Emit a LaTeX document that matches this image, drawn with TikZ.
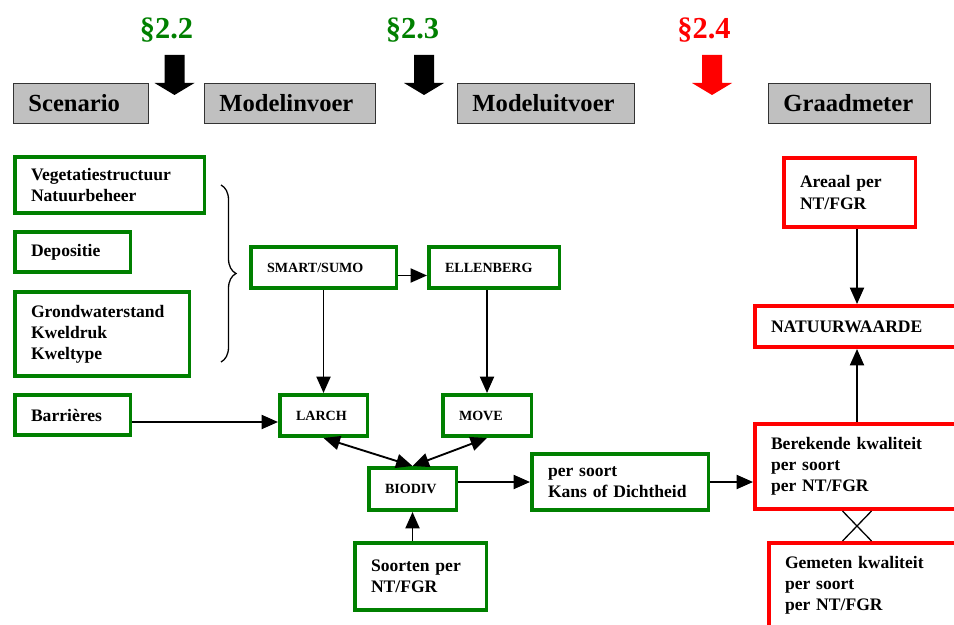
\documentclass[tikz,border=0pt]{standalone}
\usepackage{fontspec}
\setmainfont{Liberation Serif}
\usetikzlibrary{arrows.meta,decorations.pathreplacing}

\definecolor{natgreen}{RGB}{0,128,0}
\definecolor{natred}{RGB}{255,0,0}
\definecolor{headgray}{RGB}{192,192,192}

\newdimen\px
\px=0.03cm
\hyphenpenalty=10000

\begin{document}
\begin{tikzpicture}[x=0.03cm, y=-0.03cm,
    head/.style={draw=black!80, fill=headgray, line width=0.8pt, anchor=west, inner xsep=15\px, inner ysep=0pt,
        minimum height=40\px, align=left, font=\fontsize{21}{25}\selectfont\bfseries},
    gbox/.style={draw=natgreen, line width=3pt, anchor=west, inner xsep=16.25\px, inner ysep=0pt,
        align=left, font=\fontsize{15}{18}\selectfont\bfseries},
    rbox/.style={gbox, draw=natred},
    small/.style={font=\fontsize{12}{14}\selectfont\bfseries},
    sect/.style={font=\fontsize{26}{30}\selectfont\bfseries},
    conn/.style={line width=1.6pt, -{Triangle[length=14pt, width=12pt]}},
    both/.style={line width=1.6pt, {Triangle[length=14pt, width=12pt]}-{Triangle[length=14pt, width=12pt]}}]

    \useasboundingbox (0,0) rectangle (954,625);

    % paragraph markers
    \node[sect, text=natgreen] (s22) at (166.5,30) {§2.2};
    \node[sect, text=natgreen] (s23) at (412.5,30) {§2.3};
    \node[sect, text=natred] (s24) at (704,30) {§2.4};
    \foreach \ax/\col in {174.5/black, 424/black, 712/natred}
        \fill[\col] (\ax-10,55) -- (\ax+10,55) -- (\ax+10,83) -- (\ax+20,83) -- (\ax,95)
            -- (\ax-20,83) -- (\ax-10,83) -- cycle;

    % column heads
    \node[head, text width=105\px] (scen) at (13,103.5) {Scenario};
    \node[head, text width=141\px] (invoer) at (204,103.5) {Modelinvoer};
    \node[head, text width=147\px] (uitvoer) at (457,103.5) {Modeluitvoer};
    \node[head, text width=132\px] (graad) at (768,103.5) {Graadmeter};

    % scenario inputs
    \node[gbox, text width=157\px, minimum height=56.5\px] (veg) at (13,185) {Vegetatiestructuur\\Natuurbeheer};
    \node[gbox, text width=83\px, minimum height=40.5\px] (dep) at (13,252) {Depositie};
    \node[gbox, text width=142\px, minimum height=84.5\px] (grond) at (13,334) {Grondwaterstand\\Kweldruk\\Kweltype};
    \node[gbox, text width=83\px, minimum height=40.5\px] (barr) at (13,415) {Barrières};
    \draw[line width=1.1pt, decorate, decoration={brace, amplitude=15\px}] (221,185) -- (221,362);

    % models
    \node[gbox, small, text width=113\px, minimum height=41.5\px] (smart) at (249,267.5) {SMART/SUMO};
    \node[gbox, small, text width=98\px, minimum height=41.5\px] (ellen) at (427,267.5) {ELLENBERG};
    \node[gbox, small, text width=55\px, minimum height=41.5\px] (larch) at (278,415.5) {LARCH};
    \node[gbox, small, text width=56\px, minimum height=41.5\px] (move) at (441,415.5) {MOVE};
    \node[gbox, small, text width=55\px, minimum height=42.5\px] (biodiv) at (367,489) {BIODIV};
    \node[gbox, text width=99\px, minimum height=67.5\px] (soorten) at (353,576.5) {Soorten per\\NT/FGR};
    \node[gbox, text width=144\px, minimum height=56.5\px] (kans) at (530,482) {per soort\\Kans of Dichtheid};

    % graadmeter
    \node[rbox, text width=99\px, minimum height=69.5\px] (areaal) at (782,192.5) {Areaal per\\NT/FGR};
    \node[rbox, text width=204\px, minimum height=41.5\px] (natuur) at (753,326.5) {NATUURWAARDE};
    \node[rbox, text width=204\px, minimum height=85.5\px] (berek) at (753,466.5) {Berekende kwaliteit\\per soort\\per NT/FGR};
    \node[rbox, text width=204\px, minimum height=84.5\px] (gemet) at (767,585) {Gemeten kwaliteit\\per soort\\per NT/FGR};
    \coordinate (col) at (857,0);

    % connections
    \draw[conn] ([yshift=-7\px]barr.east) -- ([yshift=-7\px]barr.east -| larch.west);
    \draw[conn] ([yshift=-8\px]smart.east) -- ([yshift=-8\px]smart.east -| ellen.west);
    \draw[conn] (smart.south) -- (larch.north);
    \draw[conn] (move.north |- ellen.south) -- (move.north);
    \draw[both] (larch.south) -- (biodiv.north);
    \draw[both] (move.south) -- (biodiv.north);
    \draw[conn] (biodiv.south |- soorten.north) -- (biodiv.south);
    \draw[conn] (biodiv.east |- kans.west) -- (kans.west);
    \draw[conn] (kans.east) -- (kans.east -| berek.west);
    \draw[conn] (areaal.south -| col) -- (natuur.north -| col);
    \draw[conn] (berek.north -| col) -- (natuur.south -| col);
    \draw[line width=1.1pt] ([xshift=-14.5\px]berek.south -| col) -- ([xshift=14.5\px]gemet.north -| col);
    \draw[line width=1.1pt] ([xshift=14.5\px]berek.south -| col) -- ([xshift=-14.5\px]gemet.north -| col);
\end{tikzpicture}
\end{document}
